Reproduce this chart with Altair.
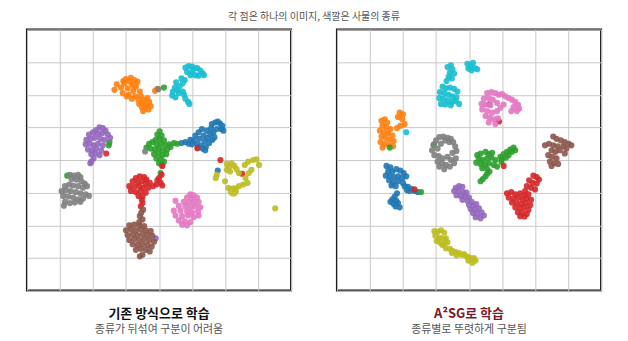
import altair as alt
import pandas as pd

CLASSES = ["blue", "orange", "green", "red", "purple", "brown", "pink", "gray", "olive", "cyan"]
COLORS = ["#1f77b4", "#ff7f0e", "#2ca02c", "#d62728", "#9467bd",
          "#8c564b", "#e377c2", "#7f7f7f", "#bcbd22", "#17becf"]
GRID_TICKS = [0, 1, 2, 3, 4, 5, 6, 7, 8]

SUPTITLE = "각 점은 하나의 이미지, 색깔은 사물의 종류"
LEFT_TITLE = "기존 방식으로 학습"
LEFT_SUB = "종류가 뒤섞여 구분이 어려움"
RIGHT_TITLE = "A²SG로 학습"
RIGHT_SUB = "종류별로 뚜렷하게 구분됨"

# ---------------- left panel (baseline) ----------------
left_orange = [(2.65, 6.15), (2.72, 6.32), (2.85, 6.22), (2.9, 6.05), (2.95, 6.35), (3.0, 6.48), (3.05, 6.2),
               (3.08, 6.0), (3.12, 6.4), (3.15, 6.52), (3.2, 6.3), (3.22, 6.12), (3.25, 6.45), (3.3, 6.25),
               (3.35, 6.4), (3.28, 5.95), (3.02, 5.95), (3.38, 5.85), (3.45, 5.95), (3.5, 5.75), (3.55, 5.85),
               (3.6, 5.68), (3.65, 5.9), (3.7, 5.78), (3.75, 5.65), (3.58, 5.6), (3.48, 5.62), (3.52, 5.5),
               (3.4, 5.72), (3.68, 5.55), (3.18, 5.88), (3.88, 6.12), (3.95, 6.18), (2.92, 6.42), (3.42, 6.1)]
left_cyan = [(4.8, 6.83), (4.9, 6.88), (5.0, 6.86), (5.08, 6.8), (5.16, 6.82), (5.25, 6.74), (5.32, 6.66),
             (5.36, 6.6), (5.2, 6.58), (5.1, 6.6), (4.95, 6.6), (4.85, 6.7), (5.0, 6.7), (4.78, 6.45),
             (4.72, 6.35), (4.62, 6.26), (4.52, 6.38), (4.48, 6.22), (4.42, 6.1), (4.4, 5.98), (4.5, 5.92),
             (4.6, 6.05), (4.72, 6.1), (4.76, 6.0), (4.8, 5.88), (4.88, 5.78), (4.92, 5.72), (4.55, 6.15),
             (4.68, 6.5)]
left_blue = [(5.05, 4.6), (5.1, 4.75), (5.15, 4.5), (5.2, 4.85), (5.22, 4.65), (5.28, 4.45), (5.3, 4.95),
             (5.35, 4.75), (5.38, 4.58), (5.42, 4.4), (5.45, 4.9), (5.48, 4.68), (5.52, 4.52), (5.55, 4.8),
             (5.58, 4.98), (5.62, 4.62), (5.65, 4.85), (5.68, 4.7), (5.6, 5.1), (5.7, 5.15), (5.78, 5.18),
             (5.85, 5.12), (5.92, 5.05), (5.95, 4.9), (5.88, 4.95), (5.75, 4.95), (5.32, 4.35), (5.4, 4.3),
             (5.18, 4.38), (5.0, 4.48), (4.8, 4.55), (4.9, 4.5), (4.95, 4.62), (4.68, 4.52), (5.78, 3.68)]
left_green = [(4.02, 4.88), (3.95, 4.78), (4.08, 4.75), (3.9, 4.62), (4.02, 4.65), (4.15, 4.6), (3.7, 4.5),
              (3.8, 4.55), (3.92, 4.48), (4.05, 4.5), (4.18, 4.45), (4.3, 4.48), (3.62, 4.38), (3.75, 4.35),
              (3.88, 4.32), (4.0, 4.35), (4.12, 4.3), (4.25, 4.32), (4.35, 4.4), (3.85, 4.18), (3.98, 4.2),
              (4.1, 4.15), (4.22, 4.18), (3.92, 4.05), (4.05, 4.02), (4.15, 3.95), (4.0, 3.9), (4.1, 3.85),
              (4.45, 4.52), (4.55, 4.5), (4.15, 6.22), (2.48, 4.45), (2.5, 4.55), (4.05, 3.6), (1.22, 3.52)]
left_purple = [(2.2, 5.0), (2.3, 4.98), (2.38, 4.9), (2.1, 4.92), (2.0, 4.85), (1.88, 4.78), (2.15, 4.8),
               (2.28, 4.82), (2.45, 4.78), (2.52, 4.68), (1.8, 4.62), (1.92, 4.65), (2.05, 4.68), (2.22, 4.65),
               (2.35, 4.62), (1.78, 4.48), (1.9, 4.5), (2.02, 4.45), (2.15, 4.5), (2.3, 4.45), (1.85, 4.32),
               (1.98, 4.3), (2.1, 4.35), (2.25, 4.3), (1.95, 4.18), (2.08, 4.2), (2.2, 4.15), (2.02, 4.05),
               (1.95, 3.95), (1.92, 3.9), (3.9, 1.6)]
left_gray = [(1.3, 3.55), (1.42, 3.52), (1.55, 3.55), (1.62, 3.48), (1.35, 3.42), (1.5, 3.4), (1.65, 3.35),
             (1.75, 3.28), (1.82, 3.2), (1.15, 3.2), (1.28, 3.25), (1.4, 3.22), (1.55, 3.2), (1.7, 3.15),
             (1.05, 3.05), (1.18, 3.08), (1.32, 3.05), (1.48, 3.02), (1.62, 2.98), (1.78, 2.95), (1.88, 2.9),
             (1.1, 2.9), (1.25, 2.88), (1.4, 2.85), (1.55, 2.8), (1.7, 2.82), (1.15, 2.72), (1.3, 2.68),
             (1.45, 2.7), (1.62, 2.72), (1.12, 2.6), (3.58, 4.26), (3.98, 6.17)]
left_red = [(3.3, 3.45), (3.42, 3.5), (3.55, 3.48), (3.62, 3.4), (3.2, 3.35), (3.35, 3.32), (3.48, 3.35),
            (3.6, 3.28), (3.72, 3.3), (3.1, 3.2), (3.25, 3.18), (3.4, 3.2), (3.52, 3.15), (3.68, 3.15),
            (3.15, 3.05), (3.3, 3.02), (3.45, 3.05), (3.6, 3.0), (3.38, 2.9), (3.5, 2.88), (3.95, 3.38),
            (4.05, 3.3), (4.0, 3.45), (4.1, 3.22), (3.92, 3.25), (4.08, 3.55), (3.82, 3.2), (3.48, 2.78),
            (3.5, 2.68), (3.45, 2.58), (4.1, 3.82), (2.4, 4.2), (5.16, 4.36), (6.52, 3.58), (5.86, 4.0)]
left_brown = [(3.52, 2.48), (3.46, 2.38), (3.42, 2.28), (3.5, 2.18), (3.4, 2.1),
              (3.1, 2.0), (3.25, 2.02), (3.4, 2.0), (3.55, 1.98), (3.0, 1.85), (3.15, 1.88), (3.3, 1.85),
              (3.45, 1.88), (3.6, 1.85), (3.75, 1.82), (3.05, 1.7), (3.2, 1.72), (3.35, 1.7), (3.5, 1.72),
              (3.65, 1.7), (3.8, 1.68), (3.1, 1.55), (3.25, 1.58), (3.4, 1.55), (3.55, 1.57), (3.7, 1.55),
              (3.85, 1.5), (3.2, 1.42), (3.35, 1.4), (3.5, 1.42), (3.65, 1.4), (3.78, 1.35), (3.3, 1.25),
              (3.45, 1.28), (3.6, 1.25), (3.72, 1.2), (3.5, 1.1), (3.42, 1.05)]
left_pink = [(4.95, 2.95), (5.05, 2.92), (4.85, 2.85), (5.0, 2.82), (5.15, 2.85), (4.5, 2.75), (4.75, 2.72),
             (4.9, 2.7), (5.05, 2.7), (5.2, 2.72), (4.6, 2.6), (4.8, 2.58), (4.95, 2.55), (5.1, 2.58),
             (5.25, 2.55), (4.45, 2.45), (4.65, 2.45), (4.85, 2.42), (5.0, 2.4), (5.18, 2.42), (4.5, 2.3),
             (4.7, 2.28), (4.88, 2.3), (5.05, 2.25), (5.2, 2.3), (4.6, 2.15), (4.78, 2.12), (4.95, 2.1),
             (4.7, 2.02), (4.85, 2.0)]
left_olive = [(5.75, 3.55), (5.72, 3.45), (6.05, 3.88), (6.12, 3.78), (6.2, 3.9), (6.28, 3.82),
              (6.35, 3.72), (6.15, 3.65), (6.05, 3.7), (6.42, 3.6), (6.6, 3.85), (6.7, 3.95), (6.85, 4.0),
              (6.95, 4.02), (7.03, 3.85), (6.8, 3.7), (6.72, 3.6), (6.62, 3.45), (6.68, 3.3), (6.55, 3.25),
              (6.42, 3.2), (6.1, 3.15), (6.0, 3.35), (6.3, 3.12), (7.52, 2.52)]
left_big_olive = [(6.25, 3.05)]

# ---------------- right panel (A2SG) ----------------
right_cyan = [(3.35, 6.85), (3.45, 6.9), (3.5, 6.78), (3.42, 6.68), (3.55, 6.65), (3.38, 6.55), (3.48, 6.5),
              (3.32, 6.42), (3.95, 6.95), (4.05, 6.88), (4.12, 6.98), (4.18, 6.82), (4.25, 6.78), (4.08, 6.75),
              (3.98, 6.8), (3.2, 6.25), (3.3, 6.2), (3.42, 6.22), (3.55, 6.18), (3.65, 6.1), (3.12, 6.08),
              (3.25, 6.05), (3.38, 6.0), (3.5, 5.95), (3.62, 5.92), (3.1, 5.9), (3.22, 5.88), (3.35, 5.82),
              (3.48, 5.78), (3.6, 5.8), (3.7, 5.72), (3.15, 5.72), (3.28, 5.7), (3.45, 5.68), (2.1, 4.85)]
right_pink = [(4.55, 6.05), (4.68, 6.08), (4.8, 6.05), (4.9, 6.0), (5.0, 6.02), (5.1, 5.95), (5.2, 5.9),
              (5.3, 5.85), (5.4, 5.78), (5.48, 5.7), (5.52, 5.58), (5.45, 5.5), (5.35, 5.62), (5.28, 5.5),
              (4.45, 5.88), (4.6, 5.9), (4.72, 5.85), (4.38, 5.72), (4.5, 5.7), (4.65, 5.68), (4.85, 5.75),
              (4.4, 5.55), (4.55, 5.5), (4.7, 5.45), (4.85, 5.5), (4.5, 5.35), (4.62, 5.3), (4.75, 5.25),
              (4.88, 5.28), (4.6, 5.15), (4.8, 5.1), (4.95, 5.6), (5.05, 5.7)]
right_orange = [(1.9, 5.45), (2.0, 5.4), (1.85, 5.32), (1.98, 5.25), (2.05, 5.1), (1.92, 5.05), (1.82, 4.98),
                (1.35, 5.2), (1.45, 5.25), (1.52, 5.15), (1.38, 5.05), (1.5, 5.0), (1.62, 4.95), (1.3, 4.9),
                (1.42, 4.85), (1.55, 4.82), (1.68, 4.75), (1.35, 4.72), (1.48, 4.68), (1.6, 4.62),
                (1.72, 4.58), (1.32, 4.55), (1.45, 4.5), (1.58, 4.45), (1.7, 4.42), (1.38, 4.38)]
right_gray = [(3.1, 4.7), (3.22, 4.72), (3.35, 4.68), (3.45, 4.65), (3.0, 4.6), (3.52, 4.55), (2.92, 4.45),
              (3.58, 4.42), (2.88, 4.3), (3.05, 4.35), (3.15, 4.5), (3.62, 4.28), (3.5, 4.22), (2.95, 4.15),
              (3.08, 4.12), (3.2, 4.05), (3.35, 4.1), (3.45, 4.0), (3.6, 4.05), (3.05, 3.95), (3.18, 3.9),
              (3.3, 3.85), (3.42, 3.8), (3.1, 3.8), (3.25, 3.72), (3.55, 3.9), (3.28, 4.6), (3.4, 4.55)]
right_brown = [(6.55, 4.72), (6.65, 4.65), (6.78, 4.6), (6.9, 4.55), (7.02, 4.5), (7.1, 4.45), (6.3, 4.45),
               (6.42, 4.5), (6.55, 4.45), (6.68, 4.42), (6.95, 4.35), (6.5, 4.3), (6.62, 4.25), (6.75, 4.3),
               (6.4, 4.15), (6.52, 4.1), (6.65, 4.05), (6.9, 4.2), (6.45, 3.95), (6.58, 3.9), (6.7, 3.88),
               (6.5, 3.82), (6.85, 4.42), (4.6, 5.71)]
right_green = [(4.25, 4.15), (4.35, 4.2), (4.5, 4.25), (4.6, 4.18), (4.7, 4.22), (4.3, 4.05), (4.42, 4.0),
               (4.55, 4.05), (4.68, 4.08), (4.8, 4.0), (4.22, 3.92), (4.35, 3.88), (4.48, 3.85), (4.6, 3.9),
               (4.75, 3.85), (4.85, 3.8), (4.4, 3.75), (4.55, 3.72), (4.95, 4.1), (5.05, 4.18), (5.15, 4.25),
               (5.25, 4.32), (5.35, 4.38), (5.3, 4.25), (5.0, 4.02), (5.12, 4.08), (5.2, 4.15), (4.98, 3.95),
               (5.4, 4.3), (4.62, 3.65), (4.55, 3.58), (4.5, 3.5), (4.42, 3.42), (4.35, 3.35), (2.94, 4.48),
               (1.6, 4.38), (2.55, 3.02)]
right_blue = [(1.5, 3.82), (1.62, 3.78), (1.55, 3.65), (1.68, 3.65), (1.8, 3.72), (1.92, 3.68), (2.02, 3.6),
              (2.1, 3.5), (1.48, 3.52), (1.6, 3.5), (1.72, 3.48), (1.85, 3.5), (1.98, 3.45), (1.58, 3.38),
              (1.7, 3.32), (1.85, 3.35), (2.0, 3.3), (1.65, 3.22), (1.78, 3.2), (2.05, 3.2), (2.15, 3.18),
              (2.25, 3.12), (2.35, 3.05), (2.45, 3.02), (2.2, 3.05), (2.12, 3.08), (1.82, 2.98), (1.75, 2.88),
              (1.68, 2.8), (1.8, 2.75), (1.72, 2.65), (1.85, 2.68), (1.78, 2.58), (1.9, 2.55), (1.62, 2.72)]
right_purple = [(3.6, 3.15), (3.7, 3.2), (3.8, 3.18), (3.55, 3.05), (3.68, 3.05), (3.82, 3.02), (3.92, 3.0),
                (3.62, 2.92), (3.75, 2.9), (3.88, 2.88), (4.0, 2.85), (3.8, 2.78), (3.95, 2.75), (4.08, 2.72),
                (4.0, 2.62), (4.12, 2.6), (4.22, 2.65), (4.05, 2.5), (4.18, 2.48), (4.3, 2.52), (4.12, 2.38),
                (4.25, 2.35), (4.38, 2.4), (4.2, 2.25), (4.35, 2.22), (4.45, 2.3)]
right_red = [(5.95, 3.52), (6.05, 3.48), (6.12, 3.4), (5.82, 3.38), (5.92, 3.3), (6.05, 3.28), (5.75, 3.2),
             (5.88, 3.15), (6.0, 3.1), (5.7, 3.05), (5.15, 2.98), (5.28, 3.02), (5.4, 2.95), (5.55, 2.98),
             (5.68, 2.92), (5.8, 2.95), (5.2, 2.85), (5.35, 2.82), (5.5, 2.85), (5.62, 2.8), (5.75, 2.82),
             (5.88, 2.78), (5.3, 2.7), (5.45, 2.68), (5.58, 2.65), (5.72, 2.68), (5.85, 2.62), (5.4, 2.55),
             (5.55, 2.52), (5.68, 2.55), (5.8, 2.48), (5.48, 2.4), (5.62, 2.38), (5.75, 2.35), (5.55, 2.28),
             (5.68, 2.27), (4.91, 5.18), (5.05, 3.82), (2.35, 3.1)]
right_olive = [(2.95, 1.82), (3.05, 1.8), (3.15, 1.85), (3.25, 1.78), (2.98, 1.68), (3.1, 1.62), (3.3, 1.6),
               (3.02, 1.52), (3.35, 1.48), (3.2, 1.4), (3.3, 1.3), (3.42, 1.28), (3.5, 1.22), (3.6, 1.18),
               (3.7, 1.15), (3.78, 1.1), (3.85, 1.12), (3.92, 1.05), (4.0, 1.02), (4.08, 0.98), (4.15, 1.0),
               (4.2, 0.92), (4.1, 0.85), (3.98, 0.92), (3.62, 1.08), (3.48, 1.15)]
right_big_olive = [(3.18, 1.52)]

LEFT = {"blue": left_blue, "orange": left_orange, "green": left_green, "red": left_red,
        "purple": left_purple, "brown": left_brown, "pink": left_pink, "gray": left_gray,
        "olive": left_olive, "cyan": left_cyan}
RIGHT = {"blue": right_blue, "orange": right_orange, "green": right_green, "red": right_red,
         "purple": right_purple, "brown": right_brown, "pink": right_pink, "gray": right_gray,
         "olive": right_olive, "cyan": right_cyan}


def to_frame(groups):
    rows = []
    for cls, pts in groups.items():
        for x, y in pts:
            rows.append({"x": x, "y": y, "cls": cls})
    return pd.DataFrame(rows)


FONT = "Noto Sans CJK KR"
color_scale = alt.Scale(domain=CLASSES, range=COLORS)
axis_opts = dict(values=GRID_TICKS, labels=False, ticks=False, domain=False, title=None,
                 grid=True, gridColor="#c8c8c8", gridWidth=1)


def panel(groups, big, title, sub, title_color):
    df = to_frame(groups)
    big_df = pd.DataFrame([{"x": x, "y": y, "cls": "olive"} for x, y in big])
    xenc = alt.X("x:Q", scale=alt.Scale(domain=[0, 8], nice=False, zero=False), axis=alt.Axis(**axis_opts))
    yenc = alt.Y("y:Q", scale=alt.Scale(domain=[0, 8], nice=False, zero=False), axis=alt.Axis(**axis_opts))
    pts = alt.Chart(df).mark_circle(size=38, opacity=0.9).encode(
        x=xenc, y=yenc, color=alt.Color("cls:N", scale=color_scale, legend=None))
    bigpts = alt.Chart(big_df).mark_circle(size=130, opacity=0.9).encode(
        x=xenc, y=yenc, color=alt.Color("cls:N", scale=color_scale, legend=None))
    return alt.layer(pts, bigpts).properties(
        width=265, height=262,
        title=alt.TitleParams(text=title, subtitle=sub, orient="bottom", anchor="middle",
                              font=FONT, fontSize=13, fontWeight="bold", color=title_color,
                              subtitleFont=FONT, subtitleFontSize=11, subtitleColor="#555555",
                              subtitlePadding=4, offset=17))


left = panel(LEFT, left_big_olive, LEFT_TITLE, LEFT_SUB, "#111111")
right = panel(RIGHT, right_big_olive, RIGHT_TITLE, RIGHT_SUB, "#7a1a2c")

chart = alt.hconcat(left, right, spacing=44).properties(
    title=alt.TitleParams(text=SUPTITLE, font=FONT, fontSize=10, fontWeight="normal",
                          color="#555555", anchor="middle", offset=6),
    padding={"left": 26, "top": 12, "right": 26, "bottom": 0},
).configure_view(stroke="#111111", strokeWidth=2)

chart.save("out.html", embed_options={"renderer": "svg", "actions": False})
